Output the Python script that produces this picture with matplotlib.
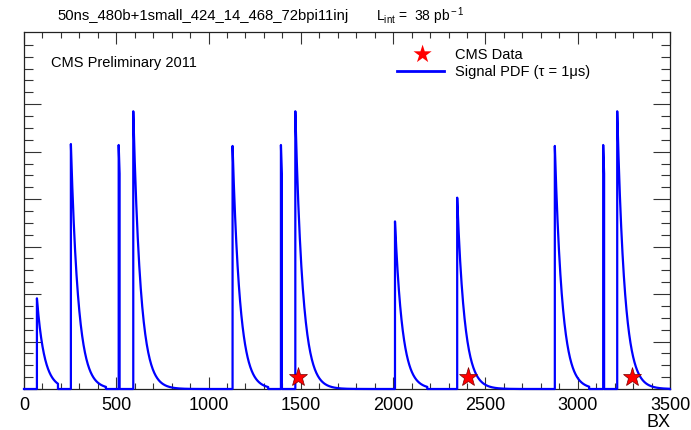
import numpy as np
import matplotlib
matplotlib.use("Agg")
import matplotlib.pyplot as plt
from matplotlib.ticker import MultipleLocator, FixedLocator, NullFormatter

plt.rcParams['font.family'] = ['Liberation Sans', 'DejaVu Sans']
plt.rcParams['mathtext.fontset'] = 'custom'
plt.rcParams['mathtext.rm'] = 'Liberation Sans'
plt.rcParams['mathtext.it'] = 'Liberation Sans:italic'

# Signal PDF: after each bunch train the signal decays with tau = 1 us (40 BX)
tau_bx = 40.0
decay_start_bx = [70, 254, 513, 592, 1130, 1392, 1470, 2010, 2347, 2876, 3138, 3214]
decay_end_bx = [184, 444, 518, 1130, 1323, 1397, 2010, 2185, 2876, 3062, 3143, 3500]
peak_height = [1.91, 5.16, 5.14, 5.85, 5.12, 5.14, 5.85, 3.53, 4.03, 5.12, 5.14, 5.85]

# CMS data (observed events)
data_bx = [1486, 2407, 3294]
data_val = [0.25, 0.25, 0.25]

# build the stepped PDF curve
xs = [0.0]
ys = [0.0]
for s, e, h in zip(decay_start_bx, decay_end_bx, peak_height):
    xs.append(s)
    ys.append(0.0)
    xx = np.linspace(s, e, 200)
    xs.extend(xx)
    ys.extend(h * np.exp(-(xx - s) / tau_bx))
    xs.append(e)
    ys.append(0.0)
xs.append(3500)
ys.append(0.0)

fig = plt.figure(figsize=(6.91, 4.31), dpi=100)
ax = fig.add_axes([24/691, 41/431, 646/691, 357/431])

ax.plot(xs, ys, color='#0000ff', lw=1.6, clip_on=False, zorder=3)
ax.plot(data_bx, data_val, ls='none', marker='*', ms=14, mfc='#ff0000',
        mec='#7a0000', mew=0.5, zorder=4)

ax.set_xlim(0, 3500)
ax.set_ylim(0, 7.52)

ax.xaxis.set_major_locator(MultipleLocator(500))
ax.xaxis.set_minor_locator(MultipleLocator(100))
ax.yaxis.set_major_locator(FixedLocator(np.arange(0, 7, 1.0)))
ax.yaxis.set_minor_locator(FixedLocator(np.arange(0, 7.5, 0.25)))
ax.yaxis.set_major_formatter(NullFormatter())

ax.tick_params(axis='x', which='major', direction='in', length=8.5, width=0.8,
               top=True, labelsize=13, pad=5, color='#333333')
ax.tick_params(axis='x', which='minor', direction='in', length=4.2, width=0.8,
               top=True, color='#333333')
ax.tick_params(axis='y', which='major', direction='in', length=12.5, width=0.8,
               right=True, color='#333333')
ax.tick_params(axis='y', which='minor', direction='in', length=6.5, width=0.8,
               right=True, color='#333333')
for sp in ax.spines.values():
    sp.set_linewidth(0.9)
    sp.set_color('#222222')

# legend drawn by hand to mimic ROOT layout
fig.lines.append(plt.Line2D([397/691, 444/691], [1 - 72/431, 1 - 72/431],
                            color='#0000ff', lw=2.0, transform=fig.transFigure))
fig.text(421.7/691, 1 - 55/431, '★', color='#ff0000', fontsize=17,
         ha='center', va='center', family=['DejaVu Sans'])
fig.text(455/691, 1 - 55/431, 'CMS Data', fontsize=10.5, ha='left', va='center')
fig.text(455/691, 1 - 72/431, 'Signal PDF (τ = 1μs)', fontsize=10.5,
         ha='left', va='center')

fig.text(51/691, 1 - 63/431, 'CMS Preliminary 2011', fontsize=10.5,
         ha='left', va='center')
fig.text(57/691, 1 - 16/431, '50ns_480b+1small_424_14_468_72bpi11inj',
         fontsize=10.7, ha='left', va='center')
fig.text(376/691, 1 - 16/431, r'L$_{\rm int}$ =  38 pb$^{\rm -1}$',
         fontsize=10, ha='left', va='center')
fig.text(670/691, 1 - 423/431, 'BX', fontsize=13, ha='right', va='center')

fig.savefig('out.png', dpi=100)
